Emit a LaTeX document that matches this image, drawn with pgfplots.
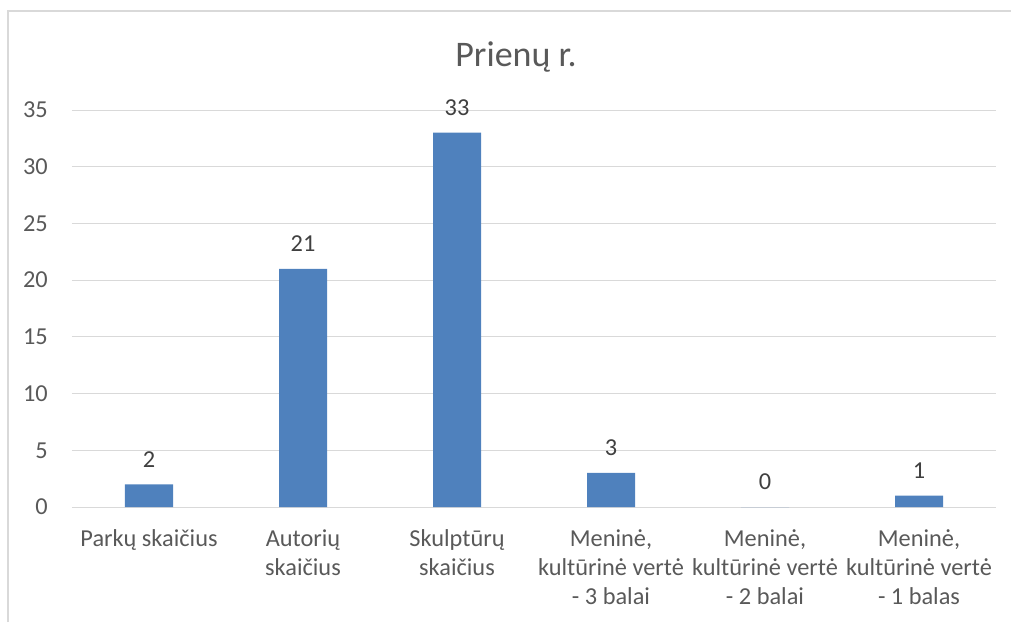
\documentclass[border=0pt]{standalone}
\usepackage{fontspec}
\setmainfont{Carlito}
\usepackage{pgfplots}
\pgfplotsset{compat=1.18}
\definecolor{barblue}{RGB}{79,129,189}
\definecolor{gridgray}{RGB}{217,217,217}
\definecolor{labelgray}{RGB}{89,89,89}
\definecolor{datagray}{RGB}{64,64,64}
\begin{document}
\begin{tikzpicture}
\useasboundingbox (0,0) rectangle (758.25pt,-466.5pt);
\draw[gridgray, line width=1.2pt] (6pt,-466.5pt) -- (6pt,-8.25pt) -- (758.25pt,-8.25pt);
\node[anchor=base, font=\fontsize{27}{32}\selectfont, text=labelgray, inner sep=0pt] at (387pt,-50pt) {Prienų r.};
\begin{axis}[
  at={(54pt,-380.25pt)}, anchor=south west,
  scale only axis, width=693pt, height=297.75pt,
  xmin=-0.5, xmax=5.5, ymin=0, ymax=35,
  ytick={0,5,...,35},
  xtick={0,...,5},
  xticklabels={{Parkų skaičius},{Autorių\\skaičius},{Skulptūrų\\skaičius},{Meninė,\\kultūrinė vertė\\- 3 balai},{Meninė,\\kultūrinė vertė\\- 2 balai},{Meninė,\\kultūrinė vertė\\- 1 balas}},
  ymajorgrids, grid style={gridgray, line width=0.75pt},
  axis line style={draw=none},
  major tick length=0pt,
  tick label style={font=\fontsize{18.25}{22}\selectfont, text=labelgray},
  yticklabel style={inner sep=0pt, anchor=east, xshift=-18pt},
  xticklabel style={align=center, inner sep=0pt, anchor=north, yshift=-16.5pt},
  /pgf/number format/assume math mode=true,
  ybar, bar width=36pt,
  nodes near coords,
  nodes near coords style={font=\fontsize{18.25}{22}\selectfont, text=datagray, inner sep=0pt, anchor=south, yshift=12.75pt},
  clip=false
]
\addplot[fill=barblue, draw=none] coordinates {(0,2) (1,21) (2,33) (3,3) (4,0) (5,1)};
\end{axis}
\end{tikzpicture}
\end{document}
